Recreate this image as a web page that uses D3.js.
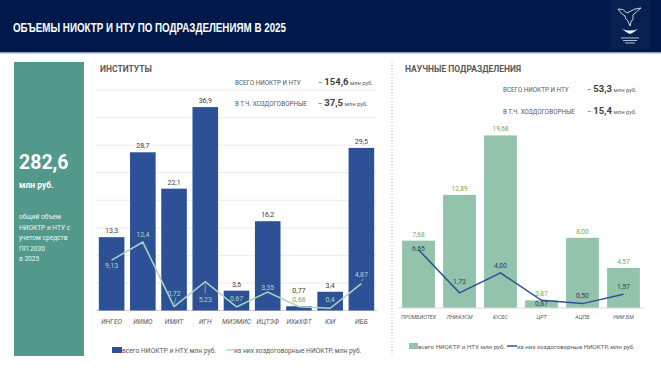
<!DOCTYPE html>
<html>
<head>
<meta charset="utf-8">
<script src="https://cdn.jsdelivr.net/npm/d3@7"></script>
<style>
  body { margin: 0; background: #fff; }
  svg { display: block; font-family: Roboto, "Liberation Sans", sans-serif; }
</style>
</head>
<body>
<script>
// институты
var instNames = ["ИНГЕО", "ИИМО", "ИМИТ", "ИГН", "МИЭМИС", "ИЦТЭФ", "ИХиХФТ", "ЮИ", "ИББ"];
var instTotal = [13.3, 28.7, 22.1, 36.9, 3.6, 16.2, 0.77, 3.4, 29.5];
var instContract = [9.13, 12.4, 0.72, 5.23, 0.67, 3.35, 0.68, 0.4, 4.87];
var instTicks = [0, 5, 10, 15, 20, 25, 30, 35, 40];

// научные подразделения
var sciNames = ["ПРОМБИОТЕХ", "ЛНИАЭСМ", "ЮСБС", "ЦРТ", "АЦПБ", "НИИ БМ"];
var sciTotal = [7.68, 12.89, 19.68, 0.87, 8.00, 4.57];
var sciContract = [6.65, 1.73, 4.00, 0.87, 0.50, 1.57];

// label placement for line values (offset of baseline from point, px)
var instLabelDy = [8, -5, -11, 20, -6, -2, -5, -6, -7];
var instLeader = [false, false, true, true, false, false, false, false, true];
var sciLabelDy = [1, -9, -5, 6, -6, -5];

var W = 661, H = 372;
var svg = d3.select("body").append("svg").attr("width", W).attr("height", H);

function comma(v) { return String(v).replace(".", ","); }
var f2 = function(v) { return d3.format(".2f")(v).replace(".", ","); };

// header
svg.append("rect").attr("x", 0).attr("y", 0).attr("width", W).attr("height", 52).attr("fill", "#00194a");
svg.append("rect").attr("x", 0).attr("y", 52).attr("width", W).attr("height", 1.5).attr("fill", "#8fa3c4");
svg.append("text").attr("x", 13).attr("y", 32)
  .attr("fill", "#fff").attr("font-weight", "bold").attr("font-size", 12.5)
  .attr("font-family", "'Liberation Sans Narrow', 'Liberation Sans', Arial, sans-serif")
  .attr("textLength", 273).attr("lengthAdjust", "spacingAndGlyphs")
  .text("ОБЪЕМЫ НИОКТР И НТУ ПО ПОДРАЗДЕЛЕНИЯМ В 2025");

// logo (rough)
var logo = svg.append("g").attr("transform", "translate(630,0)");
logo.append("rect").attr("x", -20).attr("y", 0).attr("width", 40).attr("height", 49).attr("fill", "#06204f");
logo.append("path").attr("d", "M-12,9 Q-7,8 -3,13 L-1,12 Q5,8 11,8 Q6,12 3,15 Q4,19 1,22 L0,26 L-2,21 Q-5,19 -5,16 Q-9,14 -12,9Z")
  .attr("fill", "none").attr("stroke", "#dfe6f2").attr("stroke-width", 0.9);
logo.append("path").attr("d", "M-8,29 Q0,32 8,29 Q3,33 0,34 Q-3,33 -8,29Z").attr("fill", "#f2f5fa");
[37.5, 40, 42.5].forEach(function(y, i) {
  logo.append("rect").attr("x", -9 + i * 2).attr("y", y).attr("width", 18 - i * 4).attr("height", 0.9).attr("fill", "#c9d3e6");
});

// left panel
svg.append("rect").attr("x", 14).attr("y", 62).attr("width", 70).attr("height", 294).attr("fill", "#52998b");
svg.append("text").attr("x", 19).attr("y", 169).attr("fill", "#fff").attr("font-weight", "bold").attr("font-size", 19.5).text("282,6");
svg.append("text").attr("x", 19).attr("y", 188).attr("fill", "#fff").attr("font-weight", "bold").attr("font-size", 8.5).text("млн руб.");
["общий объем", "НИОКТР и НТУ с", "учетом средств", "ПП 2030", "в 2025"].forEach(function(t, i) {
  svg.append("text").attr("x", 19).attr("y", 219 + i * 10.5).attr("fill", "#eef6f3").attr("font-size", 6.6).text(t);
});

// dotted separator
svg.append("line").attr("x1", 392).attr("x2", 392).attr("y1", 62).attr("y2", 356)
  .attr("stroke", "#b5b5b5").attr("stroke-width", 1).attr("stroke-dasharray", "1,2");

// ---------- институты ----------
var x1 = d3.scaleBand().domain(instNames).range([96, 377]).paddingInner(0.18).paddingOuter(0.09);
var y1 = d3.scaleLinear().domain([0, 40]).range([310.5, 90]);

svg.append("text").attr("x", 100).attr("y", 72).attr("fill", "#595959").attr("font-weight", "bold").attr("font-size", 8.5).text("ИНСТИТУТЫ");

svg.append("g").selectAll("line").data(instTicks).enter().append("line")
  .attr("x1", 96).attr("x2", 377)
  .attr("y1", function(d) { return y1(d); }).attr("y2", function(d) { return y1(d); })
  .attr("stroke", function(d) { return d === 0 ? "#d0d0d0" : "#ebebeb"; }).attr("stroke-width", 1);

svg.append("g").selectAll("rect").data(instTotal).enter().append("rect")
  .attr("x", function(d, i) { return x1(instNames[i]); })
  .attr("y", function(d) { return y1(d); })
  .attr("width", x1.bandwidth())
  .attr("height", function(d) { return y1(0) - y1(d); })
  .attr("fill", "#2e5096");

svg.append("g").selectAll("text").data(instTotal).enter().append("text")
  .attr("x", function(d, i) { return x1(instNames[i]) + x1.bandwidth() / 2; })
  .attr("y", function(d, i) { return i === 6 ? y1(d) - 13 : y1(d) - 4; })
  .attr("text-anchor", "middle").attr("font-size", 7).attr("fill", "#404040")
  .text(function(d) { return comma(d); });

var line1 = d3.line()
  .x(function(d, i) { return x1(instNames[i]) + x1.bandwidth() / 2; })
  .y(function(d) { return y1(d); });
svg.append("path").datum(instContract).attr("d", line1)
  .attr("fill", "none").attr("stroke", "#a9d9bf").attr("stroke-width", 1.5);

instContract.forEach(function(d, i) {
  var cx = x1(instNames[i]) + x1.bandwidth() / 2, cy = y1(d);
  if (instLeader[i]) {
    var ly = instLabelDy[i] < 0 ? cy + instLabelDy[i] + 2 : cy + instLabelDy[i] - 8;
    svg.append("line").attr("x1", cx).attr("x2", instLabelDy[i] < 0 ? cx + 2 : cx)
      .attr("y1", instLabelDy[i] < 0 ? cy - 2 : cy + 2).attr("y2", ly)
      .attr("stroke", "#a9d9bf").attr("stroke-width", 0.6);
  }
  svg.append("text").attr("x", cx).attr("y", cy + instLabelDy[i])
    .attr("text-anchor", "middle").attr("font-size", 7)
    .attr("fill", i === 6 ? "#76ad4b" : "#a9d9c4")
    .text(comma(d));
});

svg.append("g").selectAll("text").data(instNames).enter().append("text")
  .attr("x", function(d) { return x1(d) + x1.bandwidth() / 2; })
  .attr("y", 324)
  .attr("text-anchor", "middle").attr("font-size", 6.6).attr("font-style", "italic").attr("fill", "#595959")
  .text(function(d) { return d; });

// legend
svg.append("rect").attr("x", 112).attr("y", 347).attr("width", 10).attr("height", 6).attr("fill", "#2e5096");
svg.append("text").attr("x", 122).attr("y", 352.5).attr("font-size", 6.7).attr("fill", "#595959").text("всего НИОКТР и НТУ, млн руб.");
svg.append("line").attr("x1", 226).attr("x2", 234).attr("y1", 350).attr("y2", 350).attr("stroke", "#a9d9bf").attr("stroke-width", 1.5);
svg.append("text").attr("x", 234).attr("y", 352.5).attr("font-size", 6.7).attr("fill", "#595959").text("из них хоздоговорные НИОКТР, млн руб.");

// summary text
function summary(x0, x1p, y, label, value) {
  svg.append("text").attr("x", x0).attr("y", y).attr("font-size", 6.3).attr("fill", "#595959").text(label);
  var t = svg.append("text").attr("x", x1p).attr("y", y).attr("fill", "#595959");
  t.append("tspan").attr("font-size", 7).text("– ");
  t.append("tspan").attr("font-size", 9.5).attr("font-weight", "bold").attr("fill", "#404040").text(value);
  t.append("tspan").attr("font-size", 5.8).text(" млн руб.");
}
summary(235, 318, 84.5, "ВСЕГО НИОКТР И НТУ", "154,6");
summary(235, 318, 105.5, "В Т.Ч. ХОЗДОГОВОРНЫЕ", "37,5");

// ---------- научные подразделения ----------
var x2 = d3.scaleBand().domain(sciNames).range([398, 644]).paddingInner(0.2).paddingOuter(0.1);
var y2 = d3.scaleLinear().domain([0, 20]).range([308, 132.6]);

svg.append("text").attr("x", 405).attr("y", 72).attr("fill", "#595959").attr("font-weight", "bold").attr("font-size", 8.5).text("НАУЧНЫЕ ПОДРАЗДЕЛЕНИЯ");

summary(503, 587, 91.5, "ВСЕГО НИОКТР И НТУ", "53,3");
summary(503, 587, 113.5, "В Т.Ч. ХОЗДОГОВОРНЫЕ", "15,4");

svg.append("g").selectAll("rect").data(sciTotal).enter().append("rect")
  .attr("x", function(d, i) { return x2(sciNames[i]); })
  .attr("y", function(d) { return y2(d); })
  .attr("width", x2.bandwidth())
  .attr("height", function(d) { return y2(0) - y2(d); })
  .attr("fill", "#93c3ab");

svg.append("line").attr("x1", 398).attr("x2", 644).attr("y1", y2(0)).attr("y2", y2(0)).attr("stroke", "#d9d9d9");

svg.append("g").selectAll("text").data(sciTotal).enter().append("text")
  .attr("x", function(d, i) { return x2(sciNames[i]) + x2.bandwidth() / 2; })
  .attr("y", function(d) { return y2(d) - 4; })
  .attr("text-anchor", "middle").attr("font-size", 6.6).attr("fill", "#76ad4b")
  .text(function(d) { return f2(d); });

var line2 = d3.line()
  .x(function(d, i) { return x2(sciNames[i]) + x2.bandwidth() / 2; })
  .y(function(d) { return y2(d); });
svg.append("path").datum(sciContract).attr("d", line2)
  .attr("fill", "none").attr("stroke", "#2e4f9a").attr("stroke-width", 1.5);

svg.append("g").selectAll("text").data(sciContract).enter().append("text")
  .attr("x", function(d, i) { return x2(sciNames[i]) + x2.bandwidth() / 2; })
  .attr("y", function(d, i) { return y2(d) + sciLabelDy[i]; })
  .attr("text-anchor", "middle").attr("font-size", 6.8).attr("fill", "#2f3f66")
  .text(function(d) { return f2(d); });

svg.append("g").selectAll("text").data(sciNames).enter().append("text")
  .attr("x", function(d) { return x2(d) + x2.bandwidth() / 2; })
  .attr("y", 319)
  .attr("text-anchor", "middle").attr("font-size", 5.4).attr("font-style", "italic").attr("fill", "#595959")
  .text(function(d) { return d; });

svg.append("rect").attr("x", 409).attr("y", 343).attr("width", 9).attr("height", 6).attr("fill", "#93c3ab");
svg.append("text").attr("x", 418).attr("y", 348.5).attr("font-size", 6.2).attr("fill", "#595959").text("всего НИОКТР и НТУ, млн руб.");
svg.append("line").attr("x1", 507).attr("x2", 517).attr("y1", 346).attr("y2", 346).attr("stroke", "#2e4f9a").attr("stroke-width", 1.5);
svg.append("text").attr("x", 517).attr("y", 348.5).attr("font-size", 6.2).attr("fill", "#595959").text("из них хоздоговорные НИОКТР, млн руб.");
</script>
</body>
</html>
